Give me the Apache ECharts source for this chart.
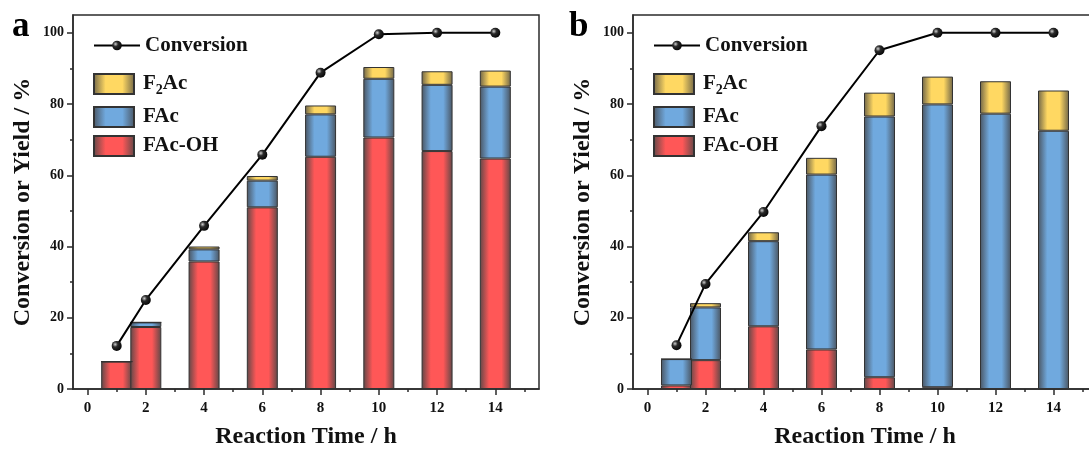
<!DOCTYPE html>
<html>
<head>
<meta charset="utf-8">
<script src="https://cdn.jsdelivr.net/npm/echarts@6/dist/echarts.min.js"></script>
<style>
  html, body { margin: 0; padding: 0; background: #fff; }
  #chart { width: 1089px; height: 453px; }
</style>
</head>
<body>
<div id="chart"></div>
<script>
// reaction time (h)
const times = [1, 2, 4, 6, 8, 10, 12, 14]
// hour slots along the x axis, labels shown at the even ones
const hourSlots = ['0', '1', '2', '3', '4', '5', '6', '7', '8', '9', '10', '11', '12', '13', '14', '15']

// panel a
const convA = [12.1, 25.0, 45.8, 65.8, 88.8, 99.6, 100, 100]
const facOhA = [7.7, 17.4, 35.8, 51.0, 65.2, 70.6, 66.8, 64.7]
const facA = [0, 1.3, 3.4, 7.5, 11.9, 16.5, 18.6, 20.2]
const f2acA = [0, 0, 0.8, 1.3, 2.5, 3.3, 3.8, 4.5]

// panel b
const convB = [12.3, 29.5, 49.7, 73.8, 95.1, 100, 100, 100]
const facOhB = [1.0, 8.1, 17.6, 11.1, 3.3, 0.5, 0, 0]
const facB = [7.4, 14.8, 23.9, 49.1, 73.2, 79.4, 77.3, 72.5]
const f2acB = [0, 1.2, 2.5, 4.7, 6.7, 7.8, 9.1, 11.3]

const yMajorTicks = [0, 20, 40, 60, 80, 100]
const yMinorTicks = [10, 30, 50, 70, 90]

const FONT = '"Liberation Serif", "DejaVu Serif", serif'
const AXIS_COLOR = '#2b2b2b'

const barGrad = (edge, mid) => ({
  type: 'linear', x: 0, y: 0, x2: 1, y2: 0,
  colorStops: [
    { offset: 0, color: edge },
    { offset: 0.3, color: mid },
    { offset: 0.7, color: mid },
    { offset: 1, color: edge },
  ],
})

const RED = barGrad('#5e4848', '#ff5757')
const BLUE = barGrad('#4a5562', '#70a9de')
const YELLOW = barGrad('#6f6548', '#ffd862')

const ballColor = {
  type: 'radial', x: 0.35, y: 0.35, r: 0.75,
  colorStops: [
    { offset: 0, color: '#d0d0d0' },
    { offset: 0.35, color: '#2a2a2a' },
    { offset: 1, color: '#000' },
  ],
}

// spread values over the hour slots, empty where no measurement
const toSlots = (vals) => hourSlots.map((h) => {
  const i = times.indexOf(Number(h))
  return i < 0 ? null : vals[i]
})

const buildSeries = (idx, conv, facOh, fac, f2ac) => {
  const bar = (name, vals, color) => ({
    name,
    type: 'bar',
    xAxisIndex: idx * 2,
    yAxisIndex: idx * 2,
    stack: 'yield' + idx,
    barWidth: 31,
    itemStyle: { color, borderColor: '#333', borderWidth: 1 },
    data: toSlots(vals),
  })
  return [
    bar('FAc-OH', facOh, RED),
    bar('FAc', fac, BLUE),
    bar('F2Ac', f2ac, YELLOW),
    {
      name: 'Conversion',
      type: 'line',
      xAxisIndex: idx * 2,
      yAxisIndex: idx * 2,
      symbol: 'circle',
      symbolSize: 10,
      connectNulls: true,
      z: 5,
      lineStyle: { color: '#000', width: 2 },
      itemStyle: { color: ballColor },
      data: toSlots(conv),
    },
  ]
}

const grids = [
  { left: 73, top: 15, width: 466, height: 374 },
  { left: 633, top: 15, width: 464, height: 374 },
]

const tickLine = { color: AXIS_COLOR, width: 1.5 }

const xAxes = []
const yAxes = []
grids.forEach((g, i) => {
  xAxes.push({
    type: 'category', gridIndex: i, data: hourSlots, boundaryGap: true,
    name: 'Reaction Time / h', nameLocation: 'middle', nameGap: 36,
    nameTextStyle: { fontFamily: FONT, fontWeight: 'bold', fontSize: 24, color: '#111' },
    splitLine: { show: false },
    axisLine: { show: true, onZero: false, lineStyle: tickLine },
    axisTick: {
      show: true, alignWithLabel: true, length: 6,
      interval: (n) => n % 2 === 0,
      lineStyle: tickLine,
    },
    axisLabel: {
      show: true, interval: (n) => n % 2 === 0 && n <= 14, margin: 12,
      fontFamily: FONT, fontWeight: 'bold', fontSize: 15, color: '#111',
    },
  })
  xAxes.push({
    type: 'category', gridIndex: i, data: hourSlots, boundaryGap: true,
    position: 'bottom', splitLine: { show: false },
    axisLine: { show: false, onZero: false },
    axisTick: {
      show: true, alignWithLabel: true, length: 3,
      interval: (n) => n % 2 === 1,
      lineStyle: tickLine,
    },
    axisLabel: { show: false },
  })
  yAxes.push({
    type: 'value', gridIndex: i, min: 0, max: 105,
    name: 'Conversion or Yield / %', nameLocation: 'middle', nameGap: 38,
    nameTextStyle: { fontFamily: FONT, fontWeight: 'bold', fontSize: 24, color: '#111' },
    splitLine: { show: false },
    axisLine: { show: true, onZero: false, lineStyle: tickLine },
    axisTick: { show: true, customValues: yMajorTicks, length: 6, lineStyle: tickLine },
    axisLabel: {
      show: true, customValues: yMajorTicks, margin: 9,
      fontFamily: FONT, fontWeight: 'bold', fontSize: 14, color: '#111',
    },
  })
  yAxes.push({
    type: 'value', gridIndex: i, min: 0, max: 105,
    position: 'left', splitLine: { show: false },
    axisLine: { show: false, onZero: false },
    axisTick: { show: true, customValues: yMinorTicks, length: 3, lineStyle: tickLine },
    axisLabel: { show: false },
  })
})

const legendText = {
  fontFamily: FONT, fontWeight: 'bold', fontSize: 21, color: '#111',
  rich: {
    n: { fontFamily: FONT, fontWeight: 'bold', fontSize: 21, color: '#111' },
    s: { fontFamily: FONT, fontWeight: 'bold', fontSize: 14, color: '#111', padding: [12, 0, 0, 0] },
  },
}
const boxText = { ...legendText, padding: [0, 0, 0, 4] }
const legendFmt = (name) => (name === 'F2Ac' ? '{n|F}{s|2}{n|Ac}' : name)

const legends = []
grids.forEach((g) => {
  const x = g.left + 15
  legends.push({
    data: ['Conversion'], left: x, top: 30, itemWidth: 46, itemHeight: 12, itemGap: 0,
    textStyle: legendText, formatter: legendFmt,
  })
  ;[['F2Ac', 68], ['FAc', 101], ['FAc-OH', 130]].forEach(([name, top]) => {
    legends.push({
      data: [name], left: x, top, icon: 'rect', itemWidth: 40, itemHeight: 20, itemGap: 0,
      textStyle: boxText, formatter: legendFmt,
    })
  })
})

const chart = echarts.init(document.getElementById('chart'))
chart.setOption({
  animation: false,
  backgroundColor: '#fff',
  grid: grids.map((g) => ({
    ...g, show: true, borderColor: AXIS_COLOR, borderWidth: 1.5,
    containLabel: false, outerBoundsMode: 'none',
  })),
  xAxis: xAxes,
  yAxis: yAxes,
  legend: legends,
  graphic: [
    { type: 'text', left: 12, top: 9, style: { text: 'a', font: 'bold 35px ' + FONT, fill: '#000' } },
    { type: 'text', left: 569, top: 9, style: { text: 'b', font: 'bold 35px ' + FONT, fill: '#000' } },
  ],
  series: [
    ...buildSeries(0, convA, facOhA, facA, f2acA),
    ...buildSeries(1, convB, facOhB, facB, f2acB),
  ],
})
</script>
</body>
</html>
